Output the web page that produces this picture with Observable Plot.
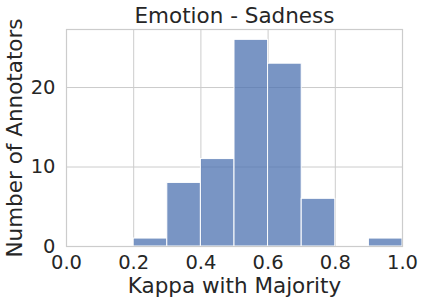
<!DOCTYPE html>
<html>
<head>
<meta charset="utf-8">
<script src="https://cdn.jsdelivr.net/npm/d3@7"></script>
<script src="https://cdn.jsdelivr.net/npm/@observablehq/plot@0.6"></script>
<style>
  html, body { margin: 0; padding: 0; background: #fff; }
  body { font-family: "DejaVu Sans", sans-serif; }
</style>
</head>
<body>
<div id="chart"></div>
<script>
const title = "Emotion - Sadness";
const xLabel = "Kappa with Majority";
const yLabel = "Number of Annotators";
const binStart = [0.0, 0.1, 0.2, 0.3, 0.4, 0.5, 0.6, 0.7, 0.8, 0.9];
const binEnd   = [0.1, 0.2, 0.3, 0.4, 0.5, 0.6, 0.7, 0.8, 0.9, 1.0];
const counts   = [0, 0, 1, 8, 11, 26, 23, 6, 0, 1];
const xTicks = [0, 0.2, 0.4, 0.6, 0.8, 1.0];
const yTicks = [0, 10, 20];

const bins = binStart.map((s, i) => ({x1: s, x2: binEnd[i], y: counts[i]})).filter(d => d.y > 0);
const ink = "#262626";

const plot = Plot.plot({
  width: 423,
  height: 306,
  marginLeft: 66,
  marginRight: 21,
  marginTop: 29,
  marginBottom: 60,
  style: {fontFamily: "DejaVu Sans, sans-serif", color: ink, background: "#fff"},
  x: {domain: [0, 1]},
  y: {domain: [0, 27.3]},
  marks: [
    Plot.gridX(xTicks, {stroke: "#cccccc", strokeOpacity: 1, strokeWidth: 1}),
    Plot.gridY(yTicks, {stroke: "#cccccc", strokeOpacity: 1, strokeWidth: 1}),
    Plot.rectY(bins, {x1: "x1", x2: "x2", y: "y", fill: "#4c72b0", fillOpacity: 0.75, stroke: "white", strokeWidth: 1}),
    Plot.frame({stroke: "#cccccc", strokeWidth: 1.2}),
    Plot.axisX(xTicks, {tickSize: 0, tickPadding: 9, fontSize: 19.5, tickFormat: d => d.toFixed(1), label: null, fill: ink}),
    Plot.axisY(yTicks, {tickSize: 0, tickPadding: 11, fontSize: 19.5, label: null, fill: ink}),
    Plot.text([title], {frameAnchor: "top", lineAnchor: "middle", textAnchor: "middle", dy: -13, fontSize: 21.5, fill: ink}),
    Plot.text([xLabel], {frameAnchor: "bottom", lineAnchor: "middle", textAnchor: "middle", dy: 40, fontSize: 21.5, fill: ink}),
    Plot.text([yLabel], {frameAnchor: "left", lineAnchor: "middle", textAnchor: "middle", dx: -51, rotate: -90, fontSize: 21.5, fill: ink})
  ]
});
document.getElementById("chart").appendChild(plot);
</script>
</body>
</html>
